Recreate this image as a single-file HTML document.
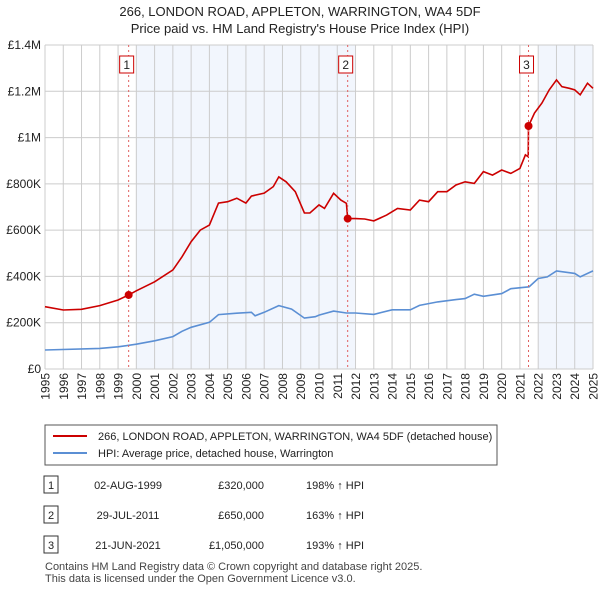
<!DOCTYPE html>
<html><head><meta charset="utf-8"><style>
body{margin:0;background:#fff;font-family:"Liberation Sans","DejaVu Sans",sans-serif;}
.t{font-size:12px;fill:#222}
</style></head><body>
<svg id="c" width="600" height="590" xmlns="http://www.w3.org/2000/svg">
<text x="300" y="16" text-anchor="middle" font-size="13" fill="#222">266, LONDON ROAD, APPLETON, WARRINGTON, WA4 5DF</text>
<text x="300" y="33" text-anchor="middle" font-size="13" fill="#222">Price paid vs. HM Land Registry's House Price Index (HPI)</text>
<g id="plot"></g>
<rect x="45" y="425" width="452" height="40" fill="#fff" stroke="#555"/>
<line x1="53" y1="436" x2="87" y2="436" stroke="#cc0000" stroke-width="2"/>
<text x="98" y="440" font-size="11" fill="#222">266, LONDON ROAD, APPLETON, WARRINGTON, WA4 5DF (detached house)</text>
<line x1="53" y1="453" x2="87" y2="453" stroke="#5b8fd4" stroke-width="2"/>
<text x="98" y="457" font-size="11" fill="#222">HPI: Average price, detached house, Warrington</text>
<g id="tbl" font-size="11" fill="#222"></g>
<text x="45" y="570" font-size="11" fill="#444">Contains HM Land Registry data © Crown copyright and database right 2025.</text>
<text x="45" y="582" font-size="11" fill="#444">This data is licensed under the Open Government Licence v3.0.</text>
</svg>
<script>
const years=[1995,1996,1997,1998,1999,2000,2001,2002,2003,2004,2005,2006,2007,2008,2009,2010,2011,2012,2013,2014,2015,2016,2017,2018,2019,2020,2021,2022,2023,2024,2025];
const yTicks=[0,200000,400000,600000,800000,1000000,1200000,1400000];
const yTickLabels=["£0","£200K","£400K","£600K","£800K","£1M","£1.2M","£1.4M"];
const redT=[1995,1996,1997,1998,1999,1999.58,2000,2001,2002,2002.5,2003,2003.5,2004,2004.5,2005,2005.5,2006,2006.3,2007,2007.5,2007.8,2008.2,2008.7,2009.2,2009.5,2010,2010.3,2010.8,2011.2,2011.5,2011.57,2012,2012.5,2013,2013.7,2014.3,2015,2015.5,2016,2016.5,2017,2017.5,2018,2018.5,2019,2019.5,2020,2020.5,2021,2021.3,2021.45,2021.47,2021.8,2022.2,2022.6,2023,2023.3,2023.7,2024,2024.3,2024.7,2025];
const redV=[269,255,258,274,298,320,338,377,428,485,550,600,622,717,723,738,717,747,760,788,830,809,766,674,674,709,694,759,730,716,650,650,648,640,665,694,687,730,723,766,766,795,809,802,853,838,860,845,867,925,917,1050,1106,1149,1206,1249,1220,1213,1206,1185,1235,1213];
const blueT=[1995,1998,1999,2000,2001,2002,2002.5,2003,2004,2004.5,2005.5,2006.3,2006.5,2007,2007.8,2008.5,2009.2,2009.8,2010,2010.8,2011.5,2012,2013,2014,2015,2015.5,2016.5,2017.5,2018,2018.5,2019,2020,2020.5,2021.5,2022,2022.5,2023,2024,2024.3,2025];
const blueV=[82,89,96,107,122,140,163,180,202,235,241,245,230,245,274,259,220,226,233,250,242,242,236,256,256,275,290,300,304,323,314,326,347,355,391,398,424,413,398,424];
const sales=[{n:"1",t:1999.58,v:320,d:"02-AUG-1999",p:"£320,000",h:"198% ↑ HPI"},{n:"2",t:2011.57,v:650,d:"29-JUL-2011",p:"£650,000",h:"163% ↑ HPI"},{n:"3",t:2021.47,v:1050,d:"21-JUN-2021",p:"£1,050,000",h:"193% ↑ HPI"}];
const X0=45,X1=593,Y0=369,Y1=45;
const xs=t=>X0+(t-1995)/30*(X1-X0);
const ys=v=>Y0-v/1400000*(Y0-Y1);
const NS="http://www.w3.org/2000/svg";
const g=document.getElementById('plot');
function mk(tag,at,par){const e=document.createElementNS(NS,tag);for(const k in at)e.setAttribute(k,at[k]);(par||g).appendChild(e);return e;}
let e;
e=mk('rect',{x:xs(2000),y:Y1,width:xs(2012)-xs(2000),height:Y0-Y1,fill:'#f2f6fd'});


e=mk('rect',{x:xs(2022),y:Y1,width:X1-xs(2022),height:Y0-Y1,fill:'#f2f6fd'});


yTicks.forEach((v,i)=>{
 e=mk('line',{x1:X0,x2:X1,y1:ys(v),y2:ys(v),stroke:'#ccc'});
 
 
 e=mk('text',{x:X0-4,y:ys(v)+4,'text-anchor':'end',class:'t'});e.textContent=yTickLabels[i];
 
 
});
years.forEach(y=>{
 e=mk('line',{x1:xs(y),x2:xs(y),y1:Y1,y2:Y0,stroke:'#ccc'});
 
 
 const tx=xs(y)+4.5,ty=Y0+4;
 e=mk('text',{x:tx,y:ty,'text-anchor':'end',class:'t','font-size':13,transform:`rotate(-90 ${tx} ${ty})`});e.textContent=y;
 
 
});
function path(T,V){return T.map((t,i)=>(i?'L':'M')+xs(t).toFixed(1)+','+ys(V[i]*1000).toFixed(1)).join('');}
e=mk('path',{d:path(blueT,blueV),fill:'none',stroke:'#5b8fd4','stroke-width':1.6});


e=mk('path',{d:path(redT,redV),fill:'none',stroke:'#cc0000','stroke-width':1.6});


const tb=document.getElementById('tbl');
sales.forEach((s,i)=>{
 const x=xs(s.t);
 e=mk('line',{x1:x,x2:x,y1:Y1,y2:Y0,stroke:'#e06060','stroke-dasharray':'2,3'});
 
 
 e=mk('rect',{x:x-9,y:56,width:14,height:17,fill:'#fff',stroke:'#cc0000'});
 
 
 e=mk('text',{x:x-2,y:69,'text-anchor':'middle',class:'t','font-size':11});e.textContent=s.n;
 
 
 e=mk('circle',{cx:x,cy:ys(s.v*1000),r:4,fill:'#cc0000'});
 
 
 const ry=[486,516,546][i];
 e=mk('rect',{x:44,y:ry-10,width:14,height:17,fill:'#fff',stroke:'#333'},tb);
 
 
 e=mk('text',{x:51,y:ry+3,'text-anchor':'middle'},tb);e.textContent=s.n;
 
 
 e=mk('text',{x:128,y:ry+3,'text-anchor':'middle'},tb);e.textContent=s.d;
 
 
 e=mk('text',{x:264,y:ry+3,'text-anchor':'end'},tb);e.textContent=s.p;
 
 
 e=mk('text',{x:306,y:ry+3},tb);e.textContent=s.h;
 
 
});
</script>
</body></html>
